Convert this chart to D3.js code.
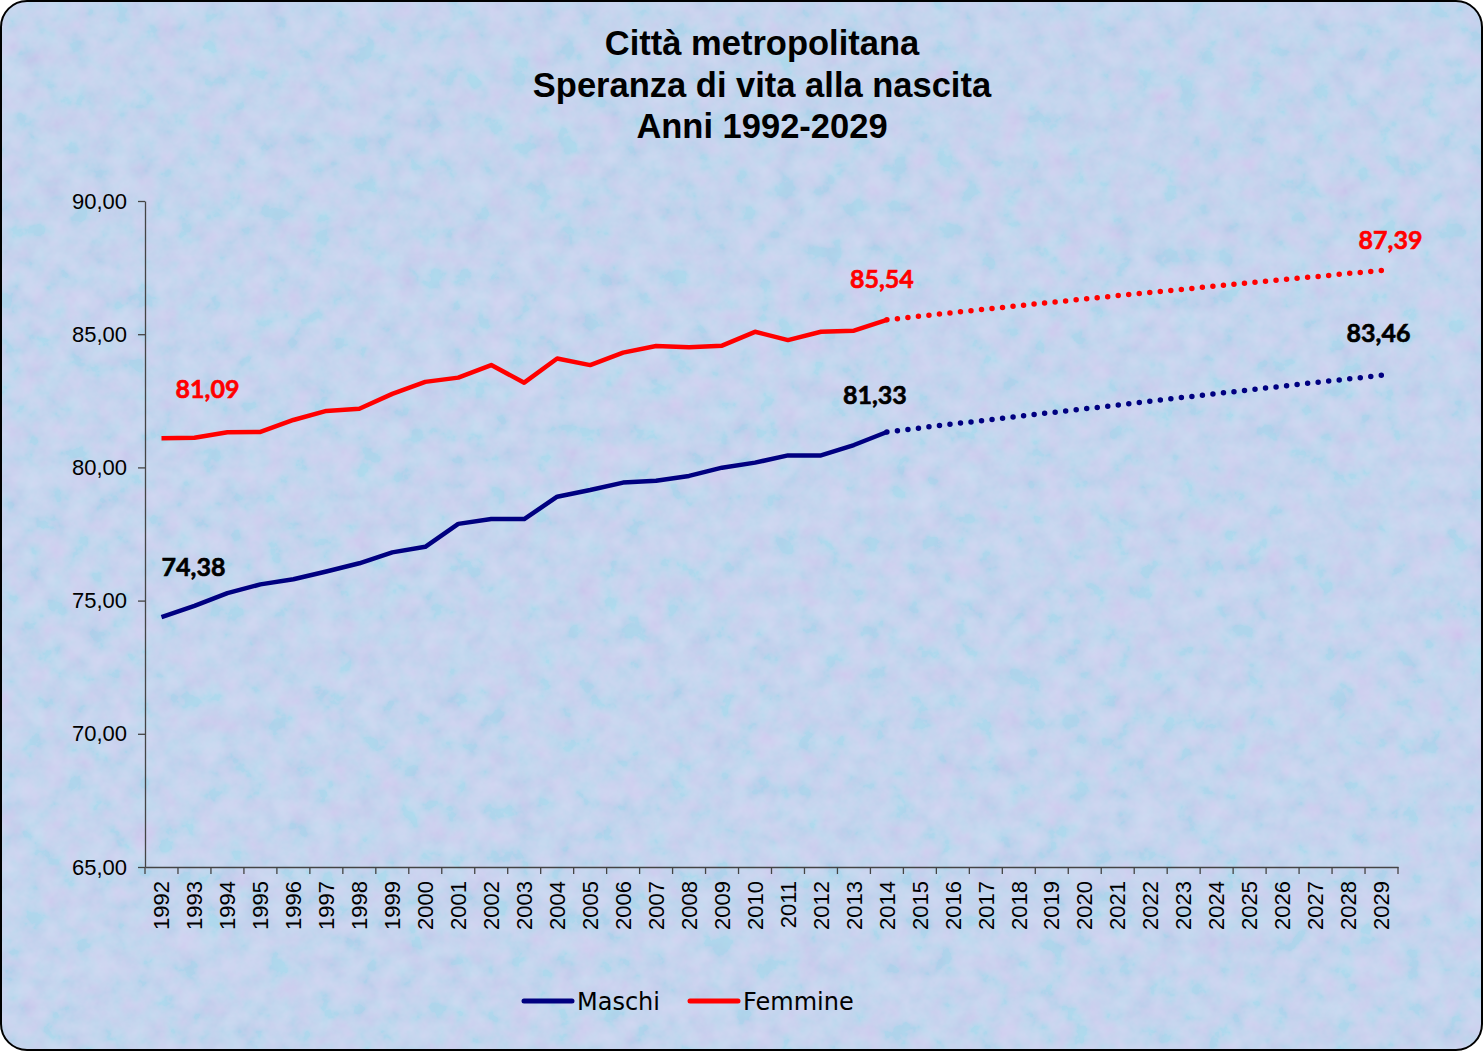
<!DOCTYPE html>
<html>
<head>
<meta charset="utf-8">
<script src="https://cdn.jsdelivr.net/npm/d3@7"></script>
<style>
  body { margin: 0; background: #fff; }
  svg { display: block; }
</style>
</head>
<body>
<div id="chart"></div>
<script>
// categories and values
var years = ["1992","1993","1994","1995","1996","1997","1998","1999","2000","2001",
  "2002","2003","2004","2005","2006","2007","2008","2009","2010","2011","2012","2013",
  "2014","2015","2016","2017","2018","2019","2020","2021","2022","2023","2024","2025",
  "2026","2027","2028","2029"];
var obsYears = years.slice(0, 23);   // 1992-2014
var projYears = years.slice(22);     // 2014-2029

var maschi = [74.38, 74.80, 75.28, 75.61, 75.80, 76.09, 76.40, 76.81, 77.02, 77.88,
  78.06, 78.06, 78.90, 79.15, 79.43, 79.50, 79.68, 79.99, 80.18, 80.45, 80.45, 80.84, 81.33];
var femmine = [81.09, 81.11, 81.32, 81.33, 81.78, 82.12, 82.20, 82.76, 83.21, 83.37,
  83.84, 83.18, 84.09, 83.84, 84.31, 84.56, 84.51, 84.57, 85.09, 84.78, 85.09, 85.13, 85.54];
var maschiProj = [81.33, 81.48, 81.63, 81.77, 81.92, 82.06, 82.20, 82.34, 82.49, 82.63,
  82.77, 82.91, 83.05, 83.19, 83.32, 83.46];
var femmineProj = [85.54, 85.68, 85.81, 85.94, 86.07, 86.20, 86.32, 86.45, 86.57, 86.69,
  86.81, 86.93, 87.05, 87.16, 87.28, 87.39];
var yTicks = [65, 70, 75, 80, 85, 90];
var titleLines = ["Città metropolitana", "Speranza di vita alla nascita", "Anni 1992-2029"];
var seriesNames = ["Maschi", "Femmine"];

var W = 1483, H = 1051;
var plot = {left: 145, right: 1398, top: 201, bottom: 867};
var colors = {Maschi: "#000080", Femmine: "#ff0000"};

var svg = d3.select("#chart").append("svg")
  .attr("width", W).attr("height", H);

// textured pastel background
var defs = svg.append("defs");
var clip = defs.append("clipPath").attr("id", "frame");
clip.append("rect").attr("x", 1).attr("y", 1).attr("width", W - 2).attr("height", H - 2)
  .attr("rx", 26).attr("ry", 26);

var f = defs.append("filter").attr("id", "tex")
  .attr("x", 0).attr("y", 0).attr("width", "100%").attr("height", "100%");
f.append("feTurbulence").attr("type", "fractalNoise").attr("baseFrequency", "0.045")
  .attr("numOctaves", 4).attr("seed", 7).attr("result", "n");
f.append("feColorMatrix").attr("in", "n").attr("type", "matrix")
  .attr("values", "1.6 -0.6 0 0 -0.1  0 0.4 0.8 0 -0.05  0.4 0 0.2 0 0.25  0 0 0 0 0.5");

var bg = svg.append("g").attr("clip-path", "url(#frame)");
bg.append("rect").attr("width", W).attr("height", H).attr("fill", "#c9d7f4");
bg.append("rect").attr("width", W).attr("height", H).attr("filter", "url(#tex)")
  .attr("opacity", 0.25);

svg.append("rect").attr("x", 1).attr("y", 1).attr("width", W - 2).attr("height", H - 2)
  .attr("rx", 26).attr("ry", 26).attr("fill", "none").attr("stroke", "#000").attr("stroke-width", 2);

// title
svg.append("g").selectAll("text")
  .data(titleLines)
  .enter().append("text")
    .attr("x", 762)
    .attr("y", function(d, i) { return 55 + i * 41.5; })
    .attr("text-anchor", "middle")
    .style("font-family", "'Liberation Sans', Arial, sans-serif")
    .style("font-weight", "bold")
    .style("font-size", "34.5px")
    .style("fill", "#000")
    .text(function(d) { return d; });

// scales
var x = d3.scaleBand().domain(years).range([plot.left, plot.right]);
var y = d3.scaleLinear().domain([65, 90]).range([plot.bottom, plot.top]);
var cx = function(yr) { return x(yr) + x.bandwidth() / 2; };
var fmt = function(v) { return v.toFixed(2).replace(".", ","); };

// y axis
svg.append("g")
  .attr("transform", "translate(" + plot.left + ",0)")
  .call(d3.axisLeft(y).tickValues(yTicks).tickSize(7).tickSizeOuter(0).tickPadding(11)
    .tickFormat(fmt));

// x axis: labels at centres, ticks at category boundaries
var xAxis = svg.append("g")
  .attr("transform", "translate(0," + plot.bottom + ")")
  .call(d3.axisBottom(x).tickSize(0).tickSizeOuter(0));
xAxis.selectAll(".tick text")
  .attr("transform", "rotate(-90)")
  .attr("x", -14).attr("y", 0).attr("dy", "0.35em")
  .style("text-anchor", "end");
xAxis.selectAll(".tickmark")
  .data(years.concat(["end"]))
  .enter().append("line")
    .attr("class", "tickmark")
    .attr("x1", function(d) { return d === "end" ? plot.right : x(d); })
    .attr("x2", function(d) { return d === "end" ? plot.right : x(d); })
    .attr("y1", 0).attr("y2", 7);

svg.selectAll(".domain, .tick line, .tickmark")
  .attr("stroke", "#444").attr("stroke-width", 1.3);
svg.selectAll(".tick text")
  .style("font-family", "'Liberation Sans', Arial, sans-serif")
  .style("font-size", "22px")
  .style("fill", "#000");

// lines
var line = d3.line()
  .x(function(d) { return cx(d[0]); })
  .y(function(d) { return y(d[1]); });

var series = [
  {name: "Maschi", obs: d3.zip(obsYears, maschi), proj: d3.zip(projYears, maschiProj)},
  {name: "Femmine", obs: d3.zip(obsYears, femmine), proj: d3.zip(projYears, femmineProj)}
];

series.forEach(function(s) {
  var p = svg.append("path")
    .datum(s.proj)
    .attr("d", line)
    .attr("fill", "none")
    .attr("stroke", colors[s.name])
    .attr("stroke-width", 5.5)
    .attr("stroke-linecap", "round");
  // spread the dots so the last one lands on (just before) the final point
  var len = p.node().getTotalLength();
  var gap = len / (Math.round(len / 10.6) + 0.02);
  p.attr("stroke-dasharray", "0," + gap);

  svg.append("path")
    .datum(s.obs)
    .attr("d", line)
    .attr("fill", "none")
    .attr("stroke", colors[s.name])
    .attr("stroke-width", 4.5)
    .attr("stroke-linejoin", "round");
});

// data labels
var labels = [
  {name: "Femmine", yr: "1992", v: femmine[0], dx: 46, dy: -40},
  {name: "Maschi", yr: "1992", v: maschi[0], dx: 32, dy: -41},
  {name: "Femmine", yr: "2014", v: femmine[22], dx: -5, dy: -32},
  {name: "Maschi", yr: "2014", v: maschi[22], dx: -12, dy: -28},
  {name: "Femmine", yr: "2029", v: femmineProj[15], dx: 9, dy: -22},
  {name: "Maschi", yr: "2029", v: maschiProj[15], dx: -3, dy: -33}
];
svg.append("g").selectAll("text")
  .data(labels)
  .enter().append("text")
    .attr("x", function(d) { return cx(d.yr) + d.dx; })
    .attr("y", function(d) { return y(d.v) + d.dy; })
    .attr("text-anchor", "middle")
    .style("font-family", "Lato, 'Open Sans', sans-serif")
    .style("font-weight", "bold")
    .style("font-size", "25px")
    .style("stroke", function(d) { return d.name === "Femmine" ? "#ff0000" : "#000"; })
    .style("stroke-width", 0.6)
    .style("fill", function(d) { return d.name === "Femmine" ? "#ff0000" : "#000"; })
    .text(function(d) { return fmt(d.v); });

// legend
var legendX = [522, 688];
var leg = svg.append("g").selectAll("g")
  .data(seriesNames)
  .enter().append("g")
    .attr("transform", function(d, i) { return "translate(" + legendX[i] + ",1001)"; });
leg.append("line")
  .attr("x1", 2).attr("x2", 50).attr("y1", 0).attr("y2", 0)
  .attr("stroke", function(d) { return colors[d]; })
  .attr("stroke-width", 5)
  .attr("stroke-linecap", "round");
leg.append("text")
  .attr("x", 55).attr("y", 0).attr("dy", "0.36em")
  .style("font-family", "'DejaVu Sans', Verdana, sans-serif")
  .style("font-size", "24px")
  .style("fill", "#000")
  .text(function(d) { return d; });
</script>
</body>
</html>
